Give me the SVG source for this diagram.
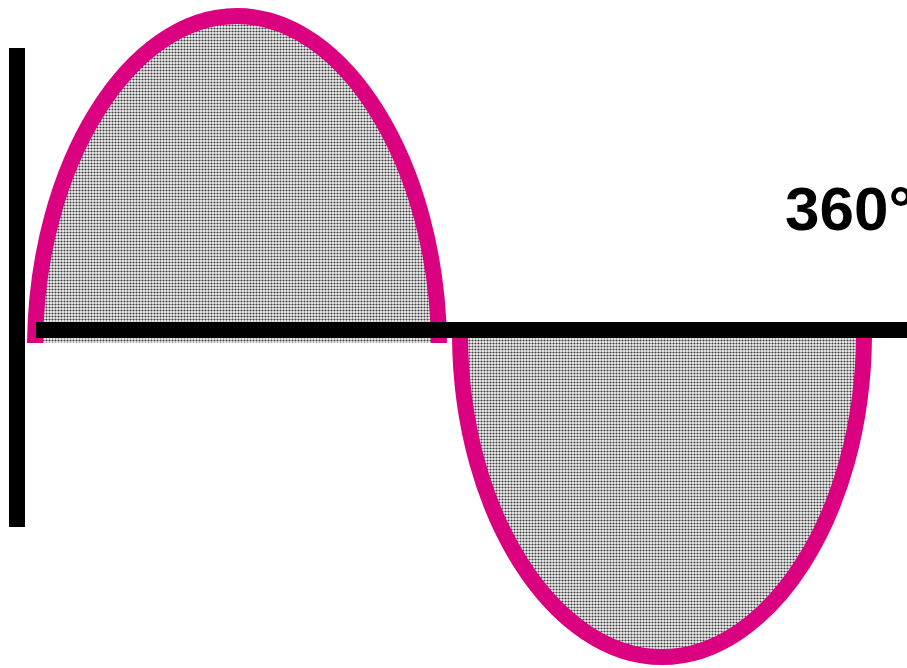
<svg xmlns="http://www.w3.org/2000/svg" width="907" height="668" viewBox="0 0 907 668">
  <defs>
    <pattern id="dots" width="3" height="3" patternUnits="userSpaceOnUse">
      <rect width="3" height="3" fill="#f4f4f4"/>
      <circle cx="1.5" cy="1.5" r="1.1" fill="#404040"/>
    </pattern>
  </defs>
  <style>
    .lobe { fill: url(#dots); stroke: #db0080; stroke-width: 16; stroke-linejoin: round; }
    .axis { fill: #000000; }
    .label { font-family: "Liberation Sans", Arial, sans-serif; font-weight: bold; font-size: 62px; fill: #000000; }
  </style>
  <g id="positive-half">
    <path class="lobe" d="M35,343 C37,165 129,16 237,16 C345,16 437,165 439,343"/>
  </g>
  <g id="negative-half">
    <path class="lobe" d="M460,336 C461,515 555,657 662,657 C769,657 863,515 864,336"/>
  </g>
  <g id="axes">
    <rect class="axis" x="9" y="48" width="16" height="479"/>
    <rect class="axis" x="36" y="322" width="871" height="16"/>
  </g>
  <g id="label-360">
    <text class="label" x="785" y="230">360°</text>
  </g>
</svg>
